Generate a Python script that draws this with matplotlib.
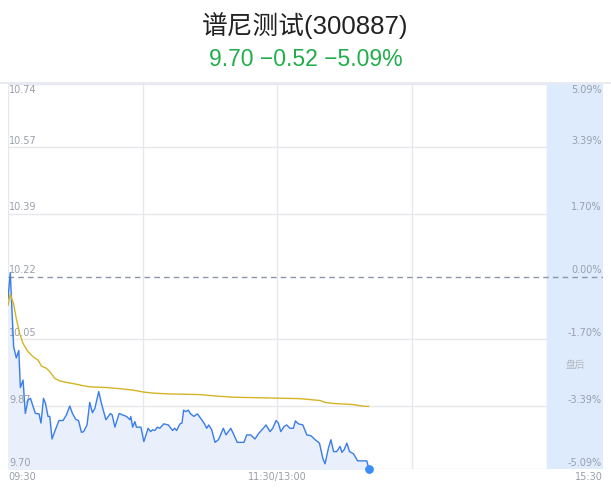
import matplotlib.pyplot as plt
from matplotlib.lines import Line2D

# minutes since 09:30 (lunch break removed) and prices
price_min = [0, 1, 2.5, 3.7, 4.8, 5.5, 6.7, 7.7, 8.9, 10, 11.2, 12.2, 13.8, 14.7,
             15.8, 16.7, 17.8, 18.6, 19.6, 20.8, 22.7, 24.5, 26, 27.5, 28.7, 30.2,
             31.4, 32.7, 33.7, 35.2, 36.4, 37.6, 38.7, 40.4, 41.6, 43.6, 45.6, 46.4,
             47.6, 49.5, 51, 52.8, 54.3, 54.7, 55.5, 56.5, 57.2, 59.2, 60.5, 62.4,
             63.5, 64.4, 65.4, 66.5, 67.6, 69.4, 71.4, 73.3, 74.2, 75.1, 76.6, 77.5,
             78.2, 79.2, 80.3, 81.3, 82.8, 84.3, 85.8, 87.3, 88.5, 89.4, 90.7, 92.2,
             93.7, 94.4, 95.9, 97.1, 99.2, 100.4, 102.1, 105.1, 106.3, 108.1, 110,
             111.5, 113.7, 114.9, 116.7, 117.9, 119.4, 120.4, 121.5, 123, 124.1,
             125.6, 127.1, 128, 129.3, 131.3, 133.1, 134.9, 136.8, 138.7, 140.2,
             141.2, 142.7, 143.8, 145, 146.4, 147.9, 148.7, 149.7, 150.9, 152.1,
             153.9, 155.7, 157.6, 159.8, 160.7]
price = [10.16, 10.23, 10.03, 10.00, 10.02, 9.92, 9.94, 9.85, 9.886, 9.891, 9.868,
         9.850, 9.849, 9.824, 9.891, 9.877, 9.842, 9.842, 9.781, 9.801, 9.831, 9.831,
         9.846, 9.870, 9.850, 9.834, 9.831, 9.799, 9.801, 9.819, 9.880, 9.852, 9.864,
         9.909, 9.877, 9.833, 9.850, 9.846, 9.813, 9.850, 9.846, 9.842, 9.833, 9.842,
         9.813, 9.828, 9.813, 9.813, 9.774, 9.810, 9.801, 9.806, 9.804, 9.813, 9.810,
         9.822, 9.819, 9.804, 9.810, 9.804, 9.822, 9.824, 9.859, 9.855, 9.859, 9.849,
         9.842, 9.849, 9.837, 9.824, 9.810, 9.819, 9.806, 9.772, 9.779, 9.788, 9.810,
         9.792, 9.810, 9.795, 9.772, 9.772, 9.792, 9.792, 9.781, 9.795, 9.810, 9.819,
         9.801, 9.810, 9.831, 9.824, 9.801, 9.815, 9.819, 9.810, 9.810, 9.830, 9.822,
         9.819, 9.792, 9.790, 9.779, 9.770, 9.729, 9.714, 9.756, 9.779, 9.747, 9.747,
         9.761, 9.745, 9.752, 9.770, 9.747, 9.741, 9.722, 9.722, 9.722, 9.70]

avg_min = [0, 1, 2.5, 3.7, 5.2, 6.7, 8.9, 11.2, 13.4, 14.9, 17.1, 18.6, 20.8, 23,
           26, 30.5, 33.5, 36.4, 43.9, 49.8, 55.8, 60.2, 64.7, 70.6, 78.1, 85.5,
           92.9, 100.4, 107.8, 115.2, 122.7, 130.1, 139, 141.2, 145, 153.9, 157.6,
           160.6]
avg_price = [10.142, 10.173, 10.146, 10.106, 10.066, 10.039, 10.017, 10.003, 9.994,
             9.978, 9.972, 9.963, 9.945, 9.938, 9.934, 9.929, 9.925, 9.922, 9.920,
             9.917, 9.913, 9.908, 9.905, 9.903, 9.902, 9.901, 9.897, 9.894, 9.893,
             9.892, 9.891, 9.890, 9.885, 9.880, 9.877, 9.874, 9.870, 9.869]

pre_close = 10.22
price_ticks = [10.74, 10.57, 10.39, 10.22, 10.05, 9.87, 9.70]
pct_labels = ['5.09%', '3.39%', '1.70%', '0.00%', '-1.70%', '-3.39%', '-5.09%']
time_labels = ['09:30', '11:30/13:00', '15:30']

grid_c = '#e6e8ee'
label_c = '#9a9faa'

fig = plt.figure(figsize=(6.11, 4.92), dpi=100)
ax = fig.add_axes([8 / 611, 1 - 469 / 492, 595 / 611, 385 / 492])
ax.set_xlim(0, 265)
ax.set_ylim(9.70, 10.74)
ax.axis('off')

# after-hours band
ax.axvspan(240, 265, color='#ddebfd', zorder=1)

# grid
for p in price_ticks:
    if p != pre_close:
        ax.plot([0, 265 if p in (10.74, 9.70) else 240], [p, p], color=grid_c, lw=1, zorder=0.5)
for m in [0, 60, 120, 180, 240]:
    ax.axvline(m, color=grid_c, lw=1, zorder=0.5)
ax.axhline(pre_close, color='#8c96aa', lw=1, ls=(0, (4, 3)), zorder=3)

# lines
ax.fill_between(price_min, price, 9.70, color='#e9f0fc', zorder=2)
ax.plot(price_min, price, color='#3b7ee9', lw=1, zorder=4)
ax.plot(avg_min, avg_price, color='#d4b424', lw=1, zorder=4)
ax.scatter([price_min[-1]], [price[-1]], s=28, color='#3a8ef6', zorder=5, clip_on=False)

# axis labels
yt = ax.get_yaxis_transform()
for i, (p, s) in enumerate(zip(price_ticks, pct_labels)):
    va = 'top' if i == 0 else 'bottom'
    dy = -1 if i == 0 else 1
    ax.annotate(f'{p:.2f}', (0, p), xycoords=yt, xytext=(1, dy), textcoords='offset points',
                ha='left', va=va, fontsize=7, color=label_c)
    ax.annotate(s, (1, p), xycoords=yt, xytext=(-1, dy), textcoords='offset points',
                ha='right', va=va, fontsize=7, color=label_c)

xt = ax.get_xaxis_transform()
ax.annotate(time_labels[0], (0, 0), xycoords=xt, xytext=(0, -2), textcoords='offset points',
            ha='left', va='top', fontsize=7, color=label_c)
ax.annotate(time_labels[1], (120, 0), xycoords=xt, xytext=(0, -2), textcoords='offset points',
            ha='center', va='top', fontsize=7, color=label_c)
ax.annotate(time_labels[2], (265, 0), xycoords=xt, xytext=(0, -2), textcoords='offset points',
            ha='right', va='top', fontsize=7, color=label_c)

ax.text(252.5, 9.98, '盘后', fontsize=7, color='#b4b8c0', ha='center', va='center',
        family=['Noto Sans CJK SC', 'DejaVu Sans'])

# top border
fig.add_artist(Line2D([0, 1], [1 - 83 / 492, 1 - 83 / 492], color='#e6e8ee', lw=1.2))

fig.text(0.5, 1 - 26 / 492, '谱尼测试(300887)', ha='center', va='center', fontsize=18.5,
         color='#222222', family=['Liberation Sans', 'Noto Sans CJK SC'])
fig.text(0.5, 1 - 60 / 492, '9.70 \u22120.52 \u22125.09%', ha='center', va='center',
         fontsize=16.5, color='#1fae4a', family=['Liberation Sans', 'DejaVu Sans'])

fig.savefig('out.png', dpi=100)
